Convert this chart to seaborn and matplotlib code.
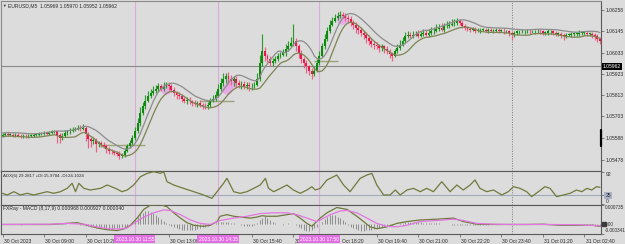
import numpy as np
import pandas as pd
import matplotlib
matplotlib.use("Agg")
import matplotlib.pyplot as plt
import matplotlib.transforms as mtrans
import seaborn as sns

# ---------------- data ----------------
symbol_label = "EURUSD,M5  1.05969 1.05970 1.05952 1.05962"
adx_label = "ADX(6) 29.2817 +DI:15.9784 -DI:24.1024"
macd_label = "FXRay - MACD (8,17,9) 0.000968 0.000927 0.000040"

first_open = 1.05603
closes = [
    1.05608, 1.05613, 1.05608, 1.05608, 1.05603, 1.05608, 1.05603, 1.05598, 1.05603, 1.05598,
    1.05603, 1.05603, 1.05608, 1.05608, 1.05613, 1.05613, 1.05618, 1.05613, 1.05618, 1.05624,
    1.05624, 1.05608, 1.05592, 1.05603, 1.05618, 1.05624, 1.05629, 1.05634, 1.05639, 1.05644,
    1.05639, 1.05644, 1.05613, 1.05587, 1.05577, 1.05582, 1.05561, 1.05566, 1.05556, 1.05551,
    1.05535, 1.05525, 1.05520, 1.05514, 1.05509, 1.05494, 1.05504, 1.05525, 1.05546, 1.05566,
    1.05592, 1.05629, 1.05670, 1.05722, 1.05754, 1.05785, 1.05811, 1.05826, 1.05837, 1.05847,
    1.05858, 1.05847, 1.05863, 1.05868, 1.05858, 1.05842, 1.05826, 1.05816, 1.05806, 1.05795,
    1.05785, 1.05790, 1.05780, 1.05774, 1.05769, 1.05774, 1.05764, 1.05759, 1.05754, 1.05764,
    1.05785, 1.05795, 1.05811, 1.05847, 1.05878, 1.05899, 1.05910, 1.05899, 1.05889, 1.05899,
    1.05878, 1.05868, 1.05873, 1.05863, 1.05868, 1.05858, 1.05863, 1.05868, 1.05899, 1.05982,
    1.06045, 1.06014, 1.06003, 1.05982, 1.05993, 1.06003, 1.06019, 1.06024, 1.06034, 1.06055,
    1.06071, 1.06086, 1.06097, 1.06066, 1.06034, 1.06003, 1.05982, 1.05962, 1.05941, 1.05925,
    1.05941, 1.05982, 1.06019, 1.06066, 1.06107, 1.06149, 1.06180, 1.06201, 1.06216, 1.06222,
    1.06232, 1.06227, 1.06216, 1.06211, 1.06190, 1.06180, 1.06164, 1.06154, 1.06138, 1.06128,
    1.06112, 1.06097, 1.06081, 1.06076, 1.06071, 1.06060, 1.06066, 1.06055, 1.06045, 1.06029,
    1.06019, 1.06040, 1.06060, 1.06076, 1.06097, 1.06118, 1.06128, 1.06123, 1.06128, 1.06133,
    1.06123, 1.06133, 1.06138, 1.06128, 1.06138, 1.06144, 1.06149, 1.06159, 1.06164, 1.06154,
    1.06170, 1.06175, 1.06180, 1.06185, 1.06190, 1.06201, 1.06190, 1.06175, 1.06164, 1.06159,
    1.06154, 1.06159, 1.06149, 1.06149, 1.06154, 1.06154, 1.06149, 1.06154, 1.06149, 1.06149,
    1.06154, 1.06149, 1.06149, 1.06144, 1.06144, 1.06138, 1.06128, 1.06138, 1.06144, 1.06144,
    1.06144, 1.06144, 1.06149, 1.06144, 1.06144, 1.06144, 1.06149, 1.06144, 1.06138, 1.06138,
    1.06144, 1.06144, 1.06138, 1.06133, 1.06133, 1.06128, 1.06123, 1.06128, 1.06128, 1.06133,
    1.06133, 1.06133, 1.06138, 1.06138, 1.06138, 1.06133, 1.06133, 1.06128, 1.06123, 1.06107,
    1.06097,
]
# wick lengths beyond the body, in points (0.00001)
wick_up = [
    8, 6, 8, 6, 8, 6, 8, 6, 8, 6, 8, 6, 8, 8, 6, 8, 8, 6, 8, 8, 10,
    5,
    10, 12, 15, 10, 12, 15, 10, 15, 12, 20,
    10, 8, 10, 12, 8, 10, 8, 12, 10, 8, 10, 8, 10, 12, 10, 15, 12, 15,
    15, 20, 25, 30, 25, 30, 25, 20, 25, 20, 20, 15, 20, 15,
    15, 12, 15, 10, 12, 15, 10, 12, 15, 10, 12, 10, 12, 10, 15, 12, 15, 20, 25, 25,
    25, 30, 20, 25, 20, 15, 15, 12, 15, 12, 15, 12, 15, 12,
    30, 40, 85, 20, 15, 15, 15, 12, 15, 15, 20, 25, 25, 30, 85,
    15, 12, 15, 10, 12, 10, 15, 25, 20, 25, 20, 25, 20, 25, 20,
    20, 25, 20, 15, 15, 12, 15, 12, 15, 12, 15, 12, 15, 12, 15, 12, 12, 10, 12, 10, 12, 10, 10,
    15, 20, 25, 20, 25, 20, 15, 20, 15, 20, 15, 20, 15, 20, 25, 20, 25, 20, 25, 20, 25, 20, 25, 20, 15,
    10, 8, 10, 8, 10, 8, 10, 12, 10, 8,
    10, 8, 10, 8, 10, 8, 10, 12, 10, 8,
    8, 10, 8, 10, 12, 10, 8, 10, 8, 10,
    8, 10, 8, 10, 12, 10, 8, 10, 8, 10,
    8, 10, 8, 10, 8, 10, 12, 10, 8, 10,
    8, 10, 8, 8, 6,
]
wick_dn = [
    6, 8, 6, 8, 6, 8, 6, 8, 6, 8, 6, 8, 6, 6, 8, 6, 6, 8, 6, 6, 8,
    45,
    30, 10, 8, 10, 12, 8, 10, 8, 10, 8,
    40, 50, 35, 20, 45, 20, 15, 15, 25, 20, 15, 10, 15, 15, 10, 12, 10, 10,
    10, 10, 12, 15, 10, 12, 10, 12, 10, 15, 10, 12, 10, 15,
    20, 15, 20, 25, 15, 20, 15, 20, 15, 20, 15, 20, 15, 20, 15, 15, 12, 10, 10, 10,
    15, 20, 25, 30, 25, 30, 25, 20, 25, 20, 20, 25, 20, 15,
    10, 15, 20, 25, 20, 15, 20, 15, 15, 15, 10, 15, 15, 10, 15,
    25, 30, 25, 30, 35, 25, 30, 15, 10, 12, 10, 12, 10, 12, 10,
    10, 12, 10, 15, 20, 25, 20, 25, 30, 25, 20, 25, 30, 25, 20, 25, 20, 25, 20, 25, 20, 25, 30,
    10, 10, 12, 10, 12, 10, 15, 12, 10, 12, 10, 12, 10, 12, 10, 12, 10, 12, 10, 12, 10, 12, 10, 12, 10,
    12, 15, 12, 10, 12, 10, 15, 10, 12, 10,
    10, 12, 10, 12, 10, 12, 10, 12, 10, 15,
    30, 12, 10, 12, 10, 12, 10, 12, 10, 12,
    10, 12, 10, 12, 10, 12, 10, 12, 15, 20,
    25, 12, 10, 12, 10, 12, 10, 12, 10, 12,
    15, 20, 25, 20, 18,
]
ma_period = 8
bid_price = 1.05962

# highlighted fractal highs (pink discs)
fractal_bar = [63.1, 86.5, 87.8, 130.8]
fractal_price = [1.05847, 1.05847, 1.05878, 1.06211]
# short horizontal level segments
level_price = [1.05556, 1.05785, 1.05988]
level_from = [37.7, 76.0, 120.0]
level_to = [55.0, 89.0, 129.0]

# ADX(6)
adx_bar = [0, 1.8, 4.4, 6.9, 9.5, 12.0, 14.6, 17.2, 19.7, 22.3, 24.9, 26.8, 28.1, 29.4, 31.3,
           33.8, 37.7, 40.3, 43.5, 46.0, 48.0, 50.5, 53.1, 55.7, 58.2, 60.8, 62.1, 63.3, 65.9,
           69.7, 73.6, 77.4, 80.6, 82.6, 85.1, 86.4, 87.7, 89.0, 91.5, 94.1, 96.7, 99.2, 101.2,
           102.4, 104.4, 107.0, 109.5, 112.0, 114.6, 117.2, 119.1, 120.4, 122.3, 124.9, 128.7,
           131.3, 133.8, 137.7, 140.3, 142.2, 144.1, 146.7, 149.2, 151.2, 153.1, 155.7, 158.2,
           160.8, 163.3, 165.9, 169.1, 172.3, 174.9, 177.4, 180.0, 181.9, 183.8, 186.4, 189.0,
           192.2, 194.7, 196.7, 199.2, 201.8, 203.7, 206.3, 208.8, 210.8, 213.3, 215.9, 218.5,
           221.0, 223.0, 225.0, 226.8, 228.7, 230.0]
adx_val = [30.7, 25.9, 35.4, 25.9, 30.7, 25.9, 30.7, 35.4, 30.7, 35.4, 45.0, 59.4, 35.4, 59.4, 45.0,
           40.2, 45.0, 54.6, 45.0, 35.4, 40.2, 54.6, 78.5, 88.1, 92.9, 88.1, 92.9, 64.2, 54.6,
           45.0, 35.4, 25.9, 16.3, 35.4, 59.4, 73.8, 54.6, 35.4, 30.7, 35.4, 45.0, 54.6, 73.8,
           45.0, 35.4, 45.0, 54.6, 40.2, 30.7, 40.2, 49.8, 40.2, 45.0, 69.0, 83.3,
           54.6, 35.4, 73.8, 83.3, 88.1, 54.6, 25.9, 25.9, 40.2, 25.9, 40.2, 45.0,
           35.4, 45.0, 35.4, 64.2, 35.4, 54.6, 40.2, 54.6, 69.0, 45.0, 35.4, 40.2,
           25.9, 35.4, 49.8, 45.0, 35.4, 21.1, 35.4, 49.8, 45.0, 21.1, 25.9, 30.7,
           40.2, 35.4, 45.0, 40.2, 49.8, 48.0]
adx_level = 25

# MACD (values in units of 0.00001)
macd_bar = [0, 18.5, 24.9, 28.7, 32.6, 36.4, 40.3, 44.1, 46.7, 49.2,
            51.8, 54.4, 56.9, 60.8, 63.3, 65.9, 68.5, 71.0, 73.6, 77.4,
            80.0, 82.6, 83.8, 86.4, 89.0, 91.5, 95.4, 98.0, 99.9, 101.8,
            105.7, 109.5, 112.0, 114.6, 117.2, 119.1, 122.3, 124.9, 128.7, 132.6,
            136.4, 139.0, 141.5, 144.1, 148.0, 151.8, 155.7, 160.8, 167.2, 173.6,
            177.4, 182.6, 189.0, 195.4, 201.8, 208.2, 214.6, 221.0, 227.4, 230.0]
macd_val = [0, 0, 4, 7, -3, -13, -20, -23, -17, -3,
            24, 57, 73, 75, 67, 44, 24, 7, -3, -7,
            -3, 11, 31, 37, 31, 28, 24, 28, 33, 31,
            31, 37, 41, 24, 4, -7, 24, 44, 64, 57,
            31, 11, -9, -16, -9, 4, 11, 17, 20, 24,
            11, 1, 0, 0, 0, 1, -3, -3, -3, -7]
signal_bar = [0, 18.5, 24.9, 31.3, 35.1, 40.3, 45.4, 48.0, 50.5, 54.4,
              58.2, 62.1, 64.6, 68.5, 72.3, 76.2, 80.0, 83.8, 89.0, 94.1,
              99.2, 104.4, 109.5, 113.3, 117.2, 121.0, 122.3, 126.2, 130.0, 132.6,
              136.4, 140.3, 144.1, 148.0, 151.8, 155.7, 160.8, 167.2, 173.6, 177.4,
              182.6, 189.0, 195.4, 208.2, 221.0, 230.0]
signal_val = [0, 1, 4, 1, -7, -16, -17, -13, 4, 28,
              44, 55, 53, 37, 17, 4, 0, 15, 24, 31,
              41, 44, 44, 37, 24, 11, 17, 37, 51, 53,
              44, 24, 4, -7, -9, -3, 11, 15, 20, 15,
              4, 1, 0, 0, -1, -5]
hist_val = [
    0, 1, 0, 1, 1, 0, 0, -1, 0, 1, 1, 1, 0, 0, 1, 1, 2, 2, 1,
    2, 2, 3, 3, 4, 4, 3, 3, 2, 1, 0, -1,
    -3, -5, -7, -9, -11, -12, -13, -14, -15, -16, -16, -16, -15, -14, -13, -11, -8, -5,
    0, 8, 18, 28, 38, 45, 50, 51, 48, 42, 35, 28, 20, 12, 5,
    -2, -6, -10, -14, -17, -19, -21, -22, -22, -21, -19, -17, -14, -11, -8, -5, -2, 0,
    4, 8, 11, 11, 10, 9, 7, 5, 3,
    0, -2, -4, -5, -5, -4, -2,
    5, 15, 25, 31, 25, 15,
    8, 4, 2, 0, -2, 2, 4, 3, 1, -2,
    -8, -14, -19, -23, -23, -20, -15, -8,
    0, 10, 20, 30, 36, 37, 35, 30, 24, 16, 8,
    -2, -8, -14, -18, -21, -23, -23, -22, -21, -19, -17, -15, -12, -10, -8, -6, -4, -2, 0,
    2, 4, 6, 8, 9, 10, 11, 10, 9, 8, 7, 6, 6, 5, 5, 4, 4, 3, 2, 1, 0,
    -1, -2, -3, -3, -3, -3, -3, -2, -2, -2, -2, -1, -1, -1, -1, 0,
    0, 0, 0, 0, 0, 0, 1, 1, 1, 1, 0, 0, 0, 0, 1, 1, 1, 0, 0, 0, 0, 0, 0, 0, -1, -1, -1,
    0, 0, 0, 0, 0, 0, 0, -1, -1, -1,
    -2, -3, -4, -5, -5,
]

price_ticks = [1.06258, 1.06145, 1.06033, 1.05923, 1.05813, 1.05703, 1.05588, 1.05478]
adx_ticks = [92, 25, 0]
macd_ticks = [0.000735, 0.0, -0.000341]
macd_tick_labels = ["0.000735", "0.00", "-0.000341"]

# labels hidden behind the event boxes in the reference are left blank
time_tick_bars = [0, 16, 32, 48, 64, 80, 96, 112, 128, 144, 160, 176, 192, 208, 224]
time_labels = ["30 Oct 2023", "30 Oct 09:00", "30 Oct 10:20", "", "30 Oct 13:00",
               "", "30 Oct 15:40", "30", "Oct 18:20", "30 Oct 19:40",
               "30 Oct 21:00", "30 Oct 22:20", "30 Oct 23:40", "31 Oct 01:20", "31 Oct 02:40"]
event_bars = [51, 83, 122]
event_labels = ["2023.10.30 11:55", "2023.10.30 14:35", "2023.10.30 17:50"]
separator_bar = 196

# ---------------- style ----------------
sns.set_theme(style="white")
plt.rcParams["font.family"] = ["Liberation Sans", "DejaVu Sans"]
BG = "#dcdcdc"
FS = 3.6
TXT = "#2a2a2a"

W, H = 625, 244
fig = plt.figure(figsize=(W / 100, H / 100), dpi=100)
fig.patch.set_facecolor(BG)


def ax_px(x0, y0, x1, y1):
    return fig.add_axes([x0 / W, 1 - y1 / H, (x1 - x0) / W, (y1 - y0) / H])


ax = ax_px(0.5, 0.5, 601, 170.5)
ax2 = ax_px(0.5, 170.5, 601, 205)
ax3 = ax_px(0.5, 205, 601, 233.5)

n = len(closes)
idx = np.arange(n)
c = np.array(closes)
o = np.concatenate([[first_open], c[:-1]])
hi = np.maximum(o, c) + np.array(wick_up) * 1e-5
lo = np.minimum(o, c) - np.array(wick_dn) * 1e-5
bull = c >= o

XL = (-0.77, 230.4)
for a in (ax, ax2, ax3):
    a.set_facecolor(BG)
    a.set_xlim(*XL)
    for s in a.spines.values():
        s.set_color("#5a5a5a")
        s.set_linewidth(0.8)
    for b in event_bars:
        a.axvline(b, color="#dcaadc", lw=0.8, zorder=1)
    a.axvline(separator_bar, color="#7c7c7c", lw=0.7, ls=(0, (1, 1.5)), zorder=1)
    a.yaxis.tick_right()
    a.tick_params(axis="y", length=2, width=0.5, pad=1.2, labelsize=FS,
                  colors="#555555", labelcolor=TXT)
    a.grid(False)
ax.spines["top"].set_color("#8a8a8a")
ax.spines["left"].set_color("#8a8a8a")

# ---------- main price panel ----------
ax.set_ylim(1.05421, 1.06305)
ax.axhline(bid_price, color="#8a8a8a", lw=0.8, zorder=1.5)
ax.hlines(level_price, level_from, level_to, color="#9da47a", lw=1.0, zorder=2)
ax.scatter(fractal_bar, fractal_price, s=60, color="#e9a6e9", alpha=0.9, lw=0, zorder=1.8)

body_col = np.where(bull, "#0b8a0b", "#e8174b")
wick_col = np.where(bull, "#2f9a2f", "#ee5f82")
ax.vlines(idx, lo, hi, colors=wick_col, lw=0.85, zorder=2.8)
height = np.maximum(np.abs(c - o), 0.00003)
ax.bar(idx, height, bottom=np.minimum(o, c), width=0.72, color=body_col, lw=0, zorder=3)

ma_df = pd.DataFrame({
    "bar": idx,
    "ma_high": pd.Series(hi).rolling(ma_period, min_periods=1).mean(),
    "ma_low": pd.Series(lo).rolling(ma_period, min_periods=1).mean(),
})
sns.lineplot(data=ma_df, x="bar", y="ma_high", ax=ax, color="#8c8c8c", lw=0.9, zorder=3.5)
sns.lineplot(data=ma_df, x="bar", y="ma_low", ax=ax, color="#7d8452", lw=0.9, zorder=3.5)
ax.set_xlabel("")
ax.set_ylabel("")
ax.set_xticks([])
ax.set_yticks(price_ticks)
ax.set_yticklabels([f"{v:.5f}" for v in price_ticks])
bt = mtrans.blended_transform_factory(ax.transAxes, ax.transData)
ax.text(1.0 + 1.5 / 600, bid_price, f"{bid_price:.5f}", transform=bt, ha="left", va="center",
        color="white", fontsize=FS, clip_on=False, zorder=10,
        bbox=dict(boxstyle="square,pad=0.2", fc="black", ec="none"))
ax.plot([1.0, 1.0], [1.05634, 1.05551], transform=bt, color="black", lw=1.6,
        clip_on=False, zorder=10)
ax.text(2.0 / 600, 1 - 5.5 / 170, "\u25bc", transform=ax.transAxes, fontsize=2.6,
        color=TXT, va="center", ha="left")
ax.text(7.0 / 600, 1 - 5.5 / 170, symbol_label, transform=ax.transAxes, fontsize=FS,
        color=TXT, va="center", ha="left")

# ---------- ADX panel ----------
ax2.set_ylim(-2.9, 96.3)
ax2.axhline(adx_level, color="#a2a9b8", lw=0.8, zorder=1.5)
sns.lineplot(x=adx_bar, y=adx_val, ax=ax2, color="#6f7a3c", lw=0.9, zorder=3)
ax2.set_xticks([])
ax2.set_yticks(adx_ticks)
ax2.set_yticklabels([str(v) for v in adx_ticks])
for lbl, va in zip(ax2.get_yticklabels(), ["top", "center", "bottom"]):
    lbl.set_va(va)
ax2.get_yticklabels()[1].set_bbox(dict(boxstyle="square,pad=0.2", fc="#aab3c6", ec="none"))
ax2.text(2.0 / 600, 1 - 6 / 34.5, adx_label, transform=ax2.transAxes, fontsize=3.2,
         color=TXT, va="center", ha="left")

# ---------- MACD panel ----------
ax3.set_ylim(-0.000341, 0.000735)
hist = np.array(hist_val) * 1e-5
ax3.vlines(idx, 0, hist, colors="#8e8e8e", lw=0.7, zorder=2)
sns.lineplot(x=macd_bar, y=np.array(macd_val) * 1e-5, ax=ax3, color="#6f7a3c", lw=0.9, zorder=3)
sns.lineplot(x=signal_bar, y=np.array(signal_val) * 1e-5, ax=ax3, color="#e276e2", lw=0.9, zorder=3)
ax3.set_yticks(macd_ticks)
ax3.set_yticklabels(macd_tick_labels)
ax3.tick_params(axis="y", pad=0.8, labelsize=3.4)
for lbl, va in zip(ax3.get_yticklabels(), ["top", "center", "bottom"]):
    lbl.set_va(va)
bt3 = mtrans.blended_transform_factory(ax3.transAxes, ax3.transData)
ax3.plot([1.0 + 2.5 / 600], [0.0], transform=bt3, marker="s", ms=2.4, color="#3a3a3a",
         clip_on=False, zorder=10)
ax3.text(2.0 / 600, 1 - 3.5 / 28.5, macd_label, transform=ax3.transAxes, fontsize=FS,
         color=TXT, va="center", ha="left")

ax3.set_xticks(time_tick_bars)
ax3.set_xticklabels(time_labels, ha="left")
ax3.tick_params(axis="x", length=2.5, width=0.5, pad=1.2, labelsize=FS,
                colors="#555555", labelcolor=TXT, bottom=True)
off = mtrans.ScaledTranslation(1.2 / 100, 0, fig.dpi_scale_trans)
for lbl in ax3.get_xticklabels():
    lbl.set_transform(lbl.get_transform() + off)
# the partly hidden 18:20 label sits just right of the 17:50 box
ax3.get_xticklabels()[8].set_transform(ax3.get_xticklabels()[8].get_transform()
                                       + mtrans.ScaledTranslation(6 / 100, 0, fig.dpi_scale_trans))
bx = mtrans.blended_transform_factory(ax3.transData, ax3.transAxes)
for b, t in zip(event_bars, event_labels):
    ax3.text(b, -5.6 / 28.5, t, transform=bx, ha="center", va="center", color="white",
             fontsize=FS, clip_on=False, zorder=20,
             bbox=dict(boxstyle="square,pad=0.25", fc="#e26fe2", ec="none"))
for a in (ax2, ax3):
    a.set_xlabel("")
    a.set_ylabel("")

fig.savefig("out.png", dpi=100, facecolor=BG)
